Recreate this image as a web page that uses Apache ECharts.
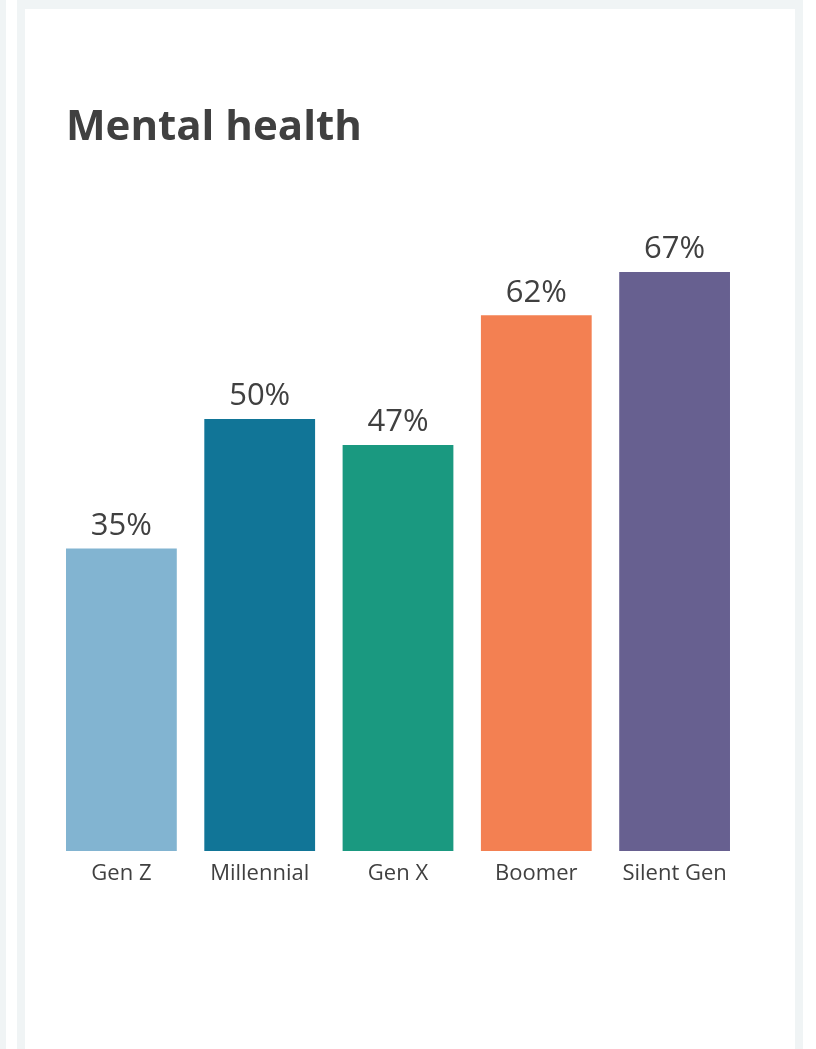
<!DOCTYPE html>
<html>
<head>
<meta charset="utf-8">
<script src="https://cdn.jsdelivr.net/npm/echarts@6/dist/echarts.min.js"></script>
<style>
  html, body { margin: 0; padding: 0; background: #ffffff; }
  #chart { width: 816px; height: 1049px; }
</style>
</head>
<body>
<div id="chart"></div>
<script>
// Share citing mental health, by generation
const categories = ['Gen Z', 'Millennial', 'Gen X', 'Boomer', 'Silent Gen'];
const values = [35, 50, 47, 62, 67];
const colors = ['#82b4d1', '#117597', '#1a9980', '#f38052', '#676090'];

const textColor = '#404040';
const fontFamily = '"Open Sans", "Noto Sans", sans-serif';
const frameColor = '#f0f4f5';

const chart = echarts.init(document.getElementById('chart'), null, { renderer: 'canvas' });

chart.setOption({
  animation: false,
  backgroundColor: '#ffffff',
  graphic: [
    { type: 'rect', z: -10, shape: { x: 0, y: 0, width: 6, height: 1049 }, style: { fill: frameColor } },
    { type: 'rect', z: -10, shape: { x: 17, y: 0, width: 786, height: 1049 }, style: { fill: frameColor } },
    { type: 'rect', z: -9, shape: { x: 25, y: 9, width: 770, height: 1040 }, style: { fill: '#ffffff' } }
  ],
  title: {
    text: 'Mental health',
    left: 61,
    top: 102,
    textStyle: { fontFamily, fontSize: 42, fontWeight: 'bold', color: textColor }
  },
  grid: { left: 52.25, right: 816 - 743.75, top: 851 - 604.8, bottom: 1049 - 851, containLabel: false },
  xAxis: {
    type: 'category',
    data: categories,
    axisLine: { show: false },
    axisTick: { show: false },
    axisLabel: { interval: 0, hideOverlap: false, margin: 12, fontFamily, fontSize: 22, color: textColor }
  },
  yAxis: {
    type: 'value',
    min: 0,
    max: 70,
    show: false,
    splitLine: { show: false }
  },
  series: [{
    type: 'bar',
    barCategoryGap: '19.9%',
    data: values.map((v, i) => ({ value: v, itemStyle: { color: colors[i] } })),
    label: {
      show: true,
      position: 'top',
      distance: 7,
      formatter: p => p.value + '%',
      fontFamily,
      fontSize: 31,
      color: textColor
    }
  }]
});
</script>
</body>
</html>
